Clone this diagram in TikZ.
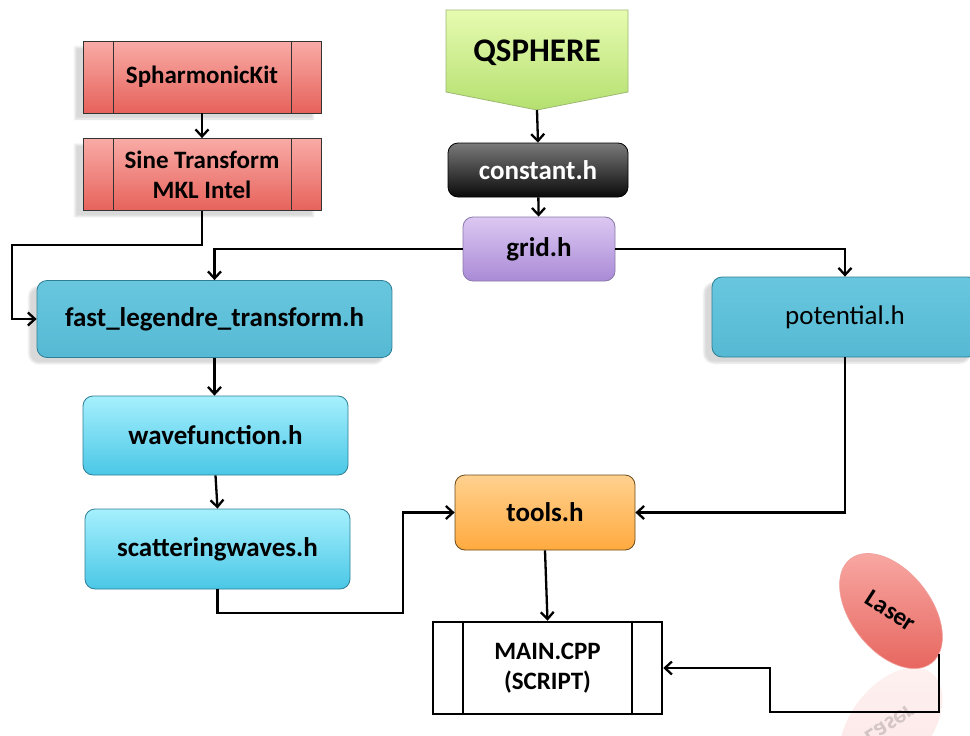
\documentclass[tikz,border=0pt]{standalone}
\usepackage{fontspec}
\setmainfont{Carlito}
\usetikzlibrary{arrows.meta}
\usetikzlibrary{calc}
\usetikzlibrary{shapes.geometric}
\usetikzlibrary{shadows.blur}

\definecolor{redtop}{HTML}{F9ABA6}
\definecolor{redbot}{HTML}{E6625B}
\definecolor{qtop}{HTML}{E6FBB0}
\definecolor{qbot}{HTML}{B5E070}
\definecolor{qline}{HTML}{9DB870}
\definecolor{ctop}{HTML}{7A7A7A}
\definecolor{cbot}{HTML}{0A0A0A}
\definecolor{gtop}{HTML}{DCC8F2}
\definecolor{gbot}{HTML}{A98AD6}
\definecolor{gline}{HTML}{8A78A8}
\definecolor{mtop}{HTML}{68C7DF}
\definecolor{mbot}{HTML}{56B9D3}
\definecolor{ltop}{HTML}{A6F0FD}
\definecolor{lbot}{HTML}{4AC7E6}
\definecolor{cyline}{HTML}{2E7F95}
\definecolor{otop}{HTML}{FFD18F}
\definecolor{obot}{HTML}{FFAA3F}
\definecolor{oline}{HTML}{6B4A1A}

\tikzset{
  sidebars/.style={path picture={
    \draw[line width=#1]
      ([xshift=30pt]path picture bounding box.north west) -- ([xshift=30pt]path picture bounding box.south west)
      ([xshift=-30pt]path picture bounding box.north east) -- ([xshift=-30pt]path picture bounding box.south east);}},
  box/.style={rectangle, inner sep=0pt, align=center,
    font=\bfseries\fontsize{27}{31}\selectfont},
  softshadow/.style={blur shadow={shadow xshift=-8pt, shadow yshift=-6pt, shadow opacity=15}},
  libbox/.style={box, draw=black!80, line width=0.8pt, top color=redtop, bottom color=redbot,
    minimum width=238pt, minimum height=72pt, sidebars=0.8pt, softshadow,
    font=\bfseries\fontsize{25}{30}\selectfont},
  hdrbox/.style={box, rounded corners=10pt, line width=0.8pt},
  link/.style={->, line width=2.3pt}
}

\begin{document}
\begin{tikzpicture}[x=1pt, y=-1pt, >={Straight Barb[length=7pt,width=13pt]}]
\useasboundingbox (0,0) rectangle (970,736);
\clip (0,0) rectangle (970,736);

% external libraries
\node[libbox] (spk) at (202,77) {SpharmonicKit};
\node[libbox] (sine) at (202,174.5) {Sine Transform\\MKL Intel};

% qsphere header
\draw[draw=qline, line width=0.8pt, top color=qtop, bottom color=qbot]
  (446,10) -- (628,10) -- (628,92) -- (537,110) -- (446,92) -- cycle;
\node[font=\bfseries\fontsize{33}{38}\selectfont, inner sep=0pt] (qsphere) at (537,53) {QSPHERE};
\coordinate (qtip) at (537,110);

\node[hdrbox, draw=black, top color=ctop, bottom color=cbot, text=white, minimum width=180pt, minimum height=54pt] (constant) at (538,170) {constant.h};
\node[hdrbox, draw=gline, top color=gtop, bottom color=gbot, minimum width=152pt, minimum height=64pt] (grid) at (539,249) {grid.h};

% modules
\node[hdrbox, draw=cyline, top color=mtop, bottom color=mbot, minimum width=355pt, minimum height=77pt, softshadow] (flt) at (214.5,319) {fast\_legendre\_transform.h};
\node[hdrbox, draw=cyline, top color=mtop, bottom color=mbot, minimum width=266pt, minimum height=80pt, softshadow, font=\fontsize{27}{31}\selectfont] (pot) at (845,317) {potential.h};
\node[hdrbox, draw=cyline, top color=ltop, bottom color=lbot, minimum width=265pt, minimum height=79pt] (wave) at (215.5,435.5) {wavefunction.h};
\node[hdrbox, draw=cyline, top color=ltop, bottom color=lbot, minimum width=265pt, minimum height=80pt] (scat) at (217.5,549) {scatteringwaves.h};
\node[hdrbox, draw=oline, top color=otop, bottom color=obot, minimum width=180pt, minimum height=75pt] (tools) at (545,512.5) {tools.h};
\node[box, draw=black, line width=2.5pt, fill=white, sidebars=2.5pt, minimum width=229pt, minimum height=92pt, font=\bfseries\fontsize{25}{30}\selectfont] (main) at (547.5,668) {MAIN.CPP\\(SCRIPT)};

% laser and its mirror image
\node[ellipse, draw=redbot!60, line width=0.6pt, top color=redtop, bottom color=redbot, minimum width=132pt, minimum height=80pt, inner sep=0pt, rotate=-52, font=\bfseries\fontsize{25}{30}\selectfont] (laser) at (891,611) {\rotatebox{19}{Laser}};
\begin{scope}[yshift=-1336pt, yscale=-1]
\node[ellipse, transform shape, opacity=0.16, top color=redtop, bottom color=redbot, minimum width=132pt, minimum height=80pt, inner sep=0pt, rotate=-52, font=\bfseries\fontsize{25}{30}\selectfont] (laserrefl) at (891,611) {\rotatebox{19}{Laser}};
\end{scope}

\coordinate (sbend) at (12,245);
\coordinate (wbend) at (403,613);
\coordinate (lbend) at (770,712);

\draw[link] (spk) -- (sine);
\draw[link] (sine.south) |- (sbend) |- (flt.west);
\draw[link] (qtip) -- (constant.north);
\draw[link] (constant) -- (grid);
\draw[link] (grid.west) -| (flt.north);
\draw[link] (grid.east) -| (pot.north);
\draw[link] (flt.south) -- (flt.south |- wave.north);
\draw[link] (wave.south) -- (scat.north);
\draw[link] (scat.south) |- (wbend) |- (tools.west);
\draw[link] (pot.south) |- (tools.east);
\draw[link] (tools.south) -- (main.north);
\draw[link] (laser.10) |- (lbend) |- (main.east);
\end{tikzpicture}
\end{document}
